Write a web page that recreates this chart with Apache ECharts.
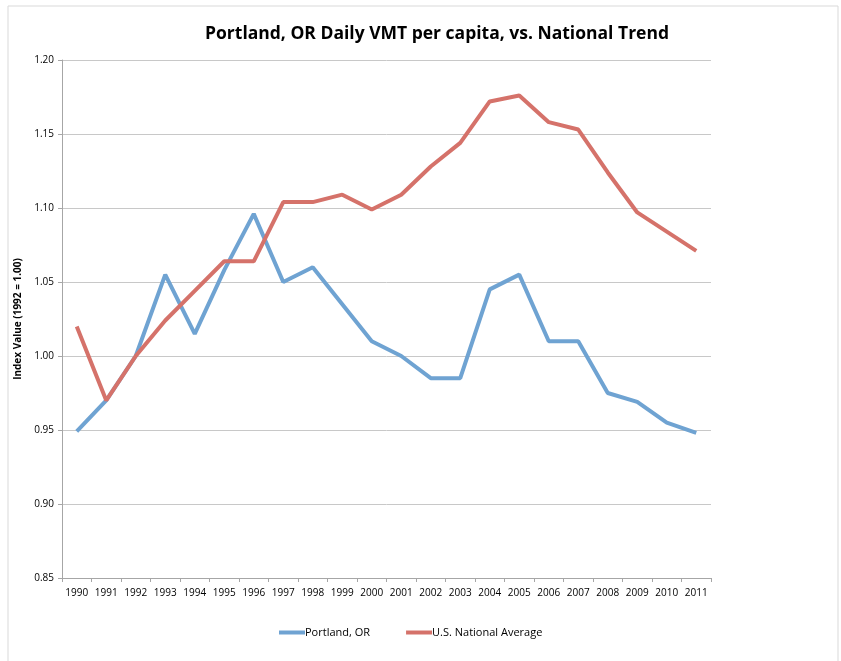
<!DOCTYPE html>
<html><head><meta charset="utf-8">
<script src="https://cdn.jsdelivr.net/npm/echarts@6/dist/echarts.min.js"></script>
<style>html,body{margin:0;padding:0;background:#fff}#c{width:841px;height:661px}</style>
</head><body><div id="c"></div>
<script>
const years = ['1990','1991','1992','1993','1994','1995','1996','1997','1998','1999','2000','2001','2002','2003','2004','2005','2006','2007','2008','2009','2010','2011'];
const portland = [0.949,0.970,1.000,1.055,1.015,1.058,1.096,1.050,1.060,1.035,1.010,1.000,0.985,0.985,1.045,1.055,1.010,1.010,0.975,0.969,0.955,0.948];
const usAvg = [1.020,0.970,1.000,1.024,1.044,1.064,1.064,1.104,1.104,1.109,1.099,1.109,1.128,1.144,1.172,1.176,1.158,1.153,1.124,1.097,1.084,1.071];
const font = 'Open Sans';
const chart = echarts.init(document.getElementById('c'));
chart.setOption({
  animation:false,
  backgroundColor:'#fff',
  graphic:[{type:'rect',shape:{x:8,y:6,width:830,height:660},style:{fill:'none',stroke:'#d9d9d9',lineWidth:1},silent:true}],
  title:{text:'Portland, OR Daily VMT per capita, vs. National Trend',left:432,textAlign:'center',top:20,
    textStyle:{fontFamily:font,fontWeight:'bold',fontSize:17.5,color:'#000'}},
  grid:{left:62,right:130,top:60,bottom:83},
  legend:{bottom:18,left:274,itemGap:36,itemWidth:26,itemHeight:4,icon:'rect',
    textStyle:{fontFamily:font,fontSize:11,color:'#000',padding:[0,0,0,-5]},
    data:['Portland, OR','U.S. National Average']},
  xAxis:{type:'category',data:years,boundaryGap:true,
    axisLine:{lineStyle:{color:'#a6a6a6'}},
    axisTick:{show:true,alignWithLabel:false,interval:0,length:4,lineStyle:{color:'#a6a6a6'}},
    axisLabel:{fontFamily:font,fontSize:10,color:'#000',margin:10,interval:0,hideOverlap:false}},
  yAxis:{type:'value',min:0.85,max:1.20,interval:0.05,
    name:'Index Value (1992 = 1.00)',nameLocation:'middle',nameGap:38,nameRotate:90,
    nameTextStyle:{fontFamily:font,fontWeight:'bold',fontSize:10,color:'#000'},
    axisLine:{show:true,lineStyle:{color:'#a6a6a6'}},
    axisTick:{show:true,length:4,lineStyle:{color:'#a6a6a6'}},
    splitLine:{lineStyle:{color:'#c8c8c8'}},
    axisLabel:{fontFamily:font,fontSize:10,color:'#000',margin:8,formatter:v=>v.toFixed(2)}},
  series:[
    {name:'Portland, OR',type:'line',data:portland,symbol:'none',lineStyle:{width:4,color:'#6fa3d2'},itemStyle:{color:'#6fa3d2'}},
    {name:'U.S. National Average',type:'line',data:usAvg,symbol:'none',lineStyle:{width:4,color:'#d5726a'},itemStyle:{color:'#d5726a'}}
  ]
});
</script></body></html>
